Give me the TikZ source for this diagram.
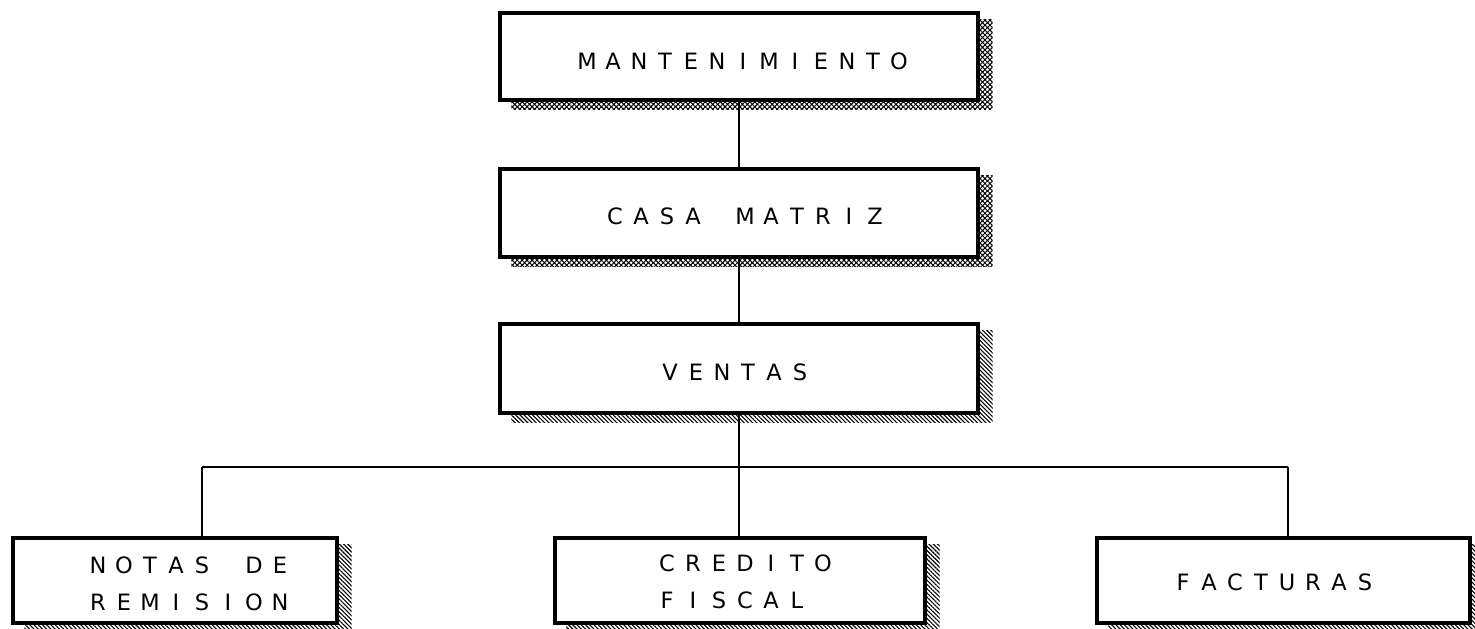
\documentclass[tikz,border=0pt]{standalone}
\usepackage{fontspec}
\newfontfamily\dotfont{DejaVu Sans}
\usetikzlibrary{patterns.meta,backgrounds}
\def\spc#1{\spcA#1\relax}
\def\spcA#1{\ifx#1\relax\else\makebox[26pt][c]{#1}\expandafter\spcA\fi}
\tikzset{
  box/.style={draw, rectangle, line width=3.2pt, fill=white, inner sep=0pt},
  lbl/.style={font=\dotfont\fontsize{22.5}{37}\selectfont, align=left, inner sep=0pt},
  dotsh/.style={pattern={Hatch[angle=45,distance=3.5pt,line width=1pt]}},
  linesh/.style={pattern={Lines[angle=-45,distance=3pt,line width=1.1pt]}},
  conn/.style={line width=1.8pt}
}
\begin{document}
\begin{tikzpicture}[x=1pt,y=-1pt]
\useasboundingbox (0,0) rectangle (1475,629);
% boxes
\node[box, minimum width=478, minimum height=87] (mant) at (739,56.5) {};
\node[box, minimum width=478, minimum height=88] (casa) at (739,213) {};
\node[box, minimum width=478, minimum height=89] (ventas) at (739,368.5) {};
\node[box, minimum width=324, minimum height=85] (notas) at (175,580.5) {};
\node[box, minimum width=370, minimum height=85] (cred) at (740,580.5) {};
\node[box, minimum width=373, minimum height=85] (fact) at (1283.5,580.5) {};
% shadows
\begin{scope}[on background layer]
\foreach \n in {mant,casa}
  \fill[dotsh] ([shift={(13,8)}]\n.south west) rectangle ([shift={(13,8)}]\n.north east);
\foreach \n in {ventas,notas,cred,fact}
  \fill[linesh] ([shift={(13,8)}]\n.south west) rectangle ([shift={(13,8)}]\n.north east);
\end{scope}
% labels
\node[lbl] (t1) at (743,61) {\spc{MANTENIMIENTO}};
\node[lbl] (t2) at (745,216) {\spc{CASA~MATRIZ}};
\node[lbl] (t3) at (735,372) {\spc{VENTAS}};
\node[lbl] (t4) at (189,584) {\spc{NOTAS~DE}\\\spc{REMISION}};
\node[lbl] (t5) at (745,582) {\spc{CREDITO}\\\spc{FISCAL}};
\node[lbl] (t6) at (1274,582) {\spc{FACTURAS}};
% connectors
\coordinate (jl) at (202,467);
\coordinate (jr) at (1288,467);
\draw[conn] (mant.south) -- (casa.north);
\draw[conn] (casa.south) -- (ventas.north);
\draw[conn] (ventas.south) -- (ventas.south |- jl);
\draw[conn] (jl) -- (jr);
\draw[conn] (jl) -- (jl |- notas.north);
\draw[conn] (ventas.south |- jl) -- (ventas.south |- cred.north);
\draw[conn] (jr) -- (jr |- fact.north);
\end{tikzpicture}
\end{document}
